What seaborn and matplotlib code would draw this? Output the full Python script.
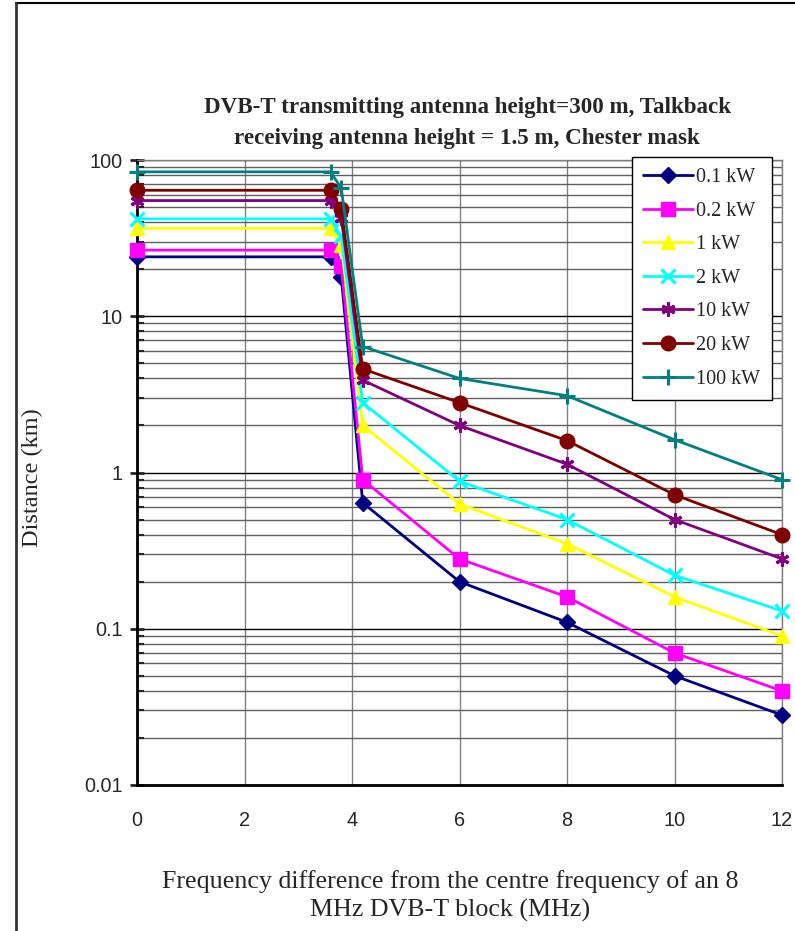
import numpy as np
import pandas as pd
import matplotlib
matplotlib.use("Agg")
import matplotlib.pyplot as plt
from matplotlib.lines import Line2D
from matplotlib.ticker import LogLocator, FixedLocator, NullFormatter
import seaborn as sns

# Frequency offsets (MHz) from the centre of the DVB-T block
freq = [0, 3.6, 3.8, 4.2, 6, 8, 10, 12]

# Protection distances (km) for each transmitter power
powers = ["0.1 kW", "0.2 kW", "1 kW", "2 kW", "10 kW", "20 kW", "100 kW"]
dist_01kW = [24, 24, 17.8, 0.64, 0.20, 0.11, 0.050, 0.028]
dist_02kW = [26.5, 26.5, 21, 0.9, 0.28, 0.16, 0.070, 0.040]
dist_1kW = [36.5, 36.5, 28.5, 2.0, 0.63, 0.35, 0.16, 0.090]
dist_2kW = [42, 42, 32.5, 2.8, 0.88, 0.50, 0.22, 0.13]
dist_10kW = [55, 55, 42.5, 3.9, 2.0, 1.13, 0.50, 0.28]
dist_20kW = [64, 64, 48.5, 4.6, 2.8, 1.6, 0.72, 0.40]
dist_100kW = [84, 84, 66, 6.4, 4.0, 3.1, 1.62, 0.90]

series = [dist_01kW, dist_02kW, dist_1kW, dist_2kW, dist_10kW, dist_20kW, dist_100kW]
colors = ["#000080", "#FF00FF", "#FFFF00", "#00FFFF", "#800080", "#800000", "#008080"]
markers = ["D", "s", "^", "x", (6, 2, 0), "o", "+"]
msizes = [8, 9.5, 10.5, 10, 10, 10.5, 11]
mews = [1, 1, 1, 2.2, 2.2, 1, 2.2]

df = pd.DataFrame({
    "freq": np.tile(freq, len(powers)),
    "power": np.repeat(powers, len(freq)),
    "dist": np.concatenate(series),
})

sns.set_style("white")
plt.rcParams["font.family"] = ["Liberation Sans", "DejaVu Sans"]

fig = plt.figure(figsize=(7.95, 9.31), dpi=100)
ax = fig.add_axes([137 / 795, 1 - 785 / 931, 645 / 795, 625 / 931])

for p, c, m, ms, mw in zip(powers, colors, markers, msizes, mews):
    sub = df[df["power"] == p]
    sns.lineplot(data=sub, x="freq", y="dist", ax=ax, color=c, marker=m,
                 markersize=ms, markeredgecolor=c, markerfacecolor=c,
                 markeredgewidth=mw, linewidth=2, estimator=None, sort=False,
                 label=p, clip_on=False, zorder=3)

ax.set_yscale("log")
ax.set_xlim(0, 12)
ax.set_ylim(0.01, 100)

ax.xaxis.set_major_locator(FixedLocator([0, 2, 4, 6, 8, 10, 12]))
ax.set_yticks([0.01, 0.1, 1, 10, 100])
ax.set_yticklabels(["0.01", "0.1", "1", "10", "100"])
ax.yaxis.set_minor_locator(LogLocator(base=10, subs=np.arange(2, 10)))
ax.yaxis.set_minor_formatter(NullFormatter())

# Gridlines: grey verticals, black decades, grey minor horizontals
ax.grid(True, which="major", axis="x", color="#808080", linewidth=1, zorder=0)
ax.grid(True, which="major", axis="y", color="#000000", linewidth=1, zorder=0)
ax.grid(True, which="minor", axis="y", color="#606060", linewidth=1, zorder=0)
ax.set_axisbelow(True)

ax.tick_params(axis="y", which="major", direction="inout", length=10, width=2,
               labelsize=14.3, pad=5, left=True)
ax.tick_params(axis="y", which="minor", direction="in", length=5, width=1.5, left=True)
ax.tick_params(axis="x", which="major", direction="inout", length=0, labelsize=14.3, pad=19)

for s in ["left", "bottom"]:
    ax.spines[s].set_color("black")
    ax.spines[s].set_linewidth(2)
for s in ["top", "right"]:
    ax.spines[s].set_color("#808080")
    ax.spines[s].set_linewidth(1)

ax.set_xlabel("")
ax.set_ylabel("")

serif = ["Liberation Serif", "DejaVu Serif"]
fig.text(467 / 795, 1 - 123 / 931,
         "DVB-T transmitting antenna height=300 m, Talkback\n"
         "receiving antenna height = 1.5 m, Chester mask",
         ha="center", va="center", family=serif, fontweight="bold",
         fontsize=16.6, linespacing=1.6)
fig.text(32 / 795, 1 - 478 / 931, "Distance (km)", rotation=90,
         ha="center", va="center", family=serif, fontsize=17.5)
fig.text(450 / 795, 1 - 896 / 931,
         "Frequency difference from the centre frequency of an 8\n"
         "MHz DVB-T block (MHz)",
         ha="center", va="center", family=serif, fontsize=18.7, linespacing=1.38)

leg = ax.legend(loc="upper right", bbox_to_anchor=(0.984, 1.005),
                prop={"family": serif, "size": 14.5}, frameon=True,
                fancybox=False, framealpha=1, edgecolor="black",
                handlelength=2.5, handletextpad=0.15, labelspacing=0.72,
                borderpad=0.55, borderaxespad=0)
leg.get_frame().set_linewidth(1)
leg.set_zorder(5)

# Page border lines along the top and left edges
fig.add_artist(Line2D([16 / 795, 1], [1 - 3 / 931, 1 - 3 / 931],
                      transform=fig.transFigure, color="black", linewidth=1.5))
fig.add_artist(Line2D([16 / 795, 16 / 795], [0, 1 - 3 / 931],
                      transform=fig.transFigure, color="#333333", linewidth=2))

fig.savefig("out.png", dpi=100)
